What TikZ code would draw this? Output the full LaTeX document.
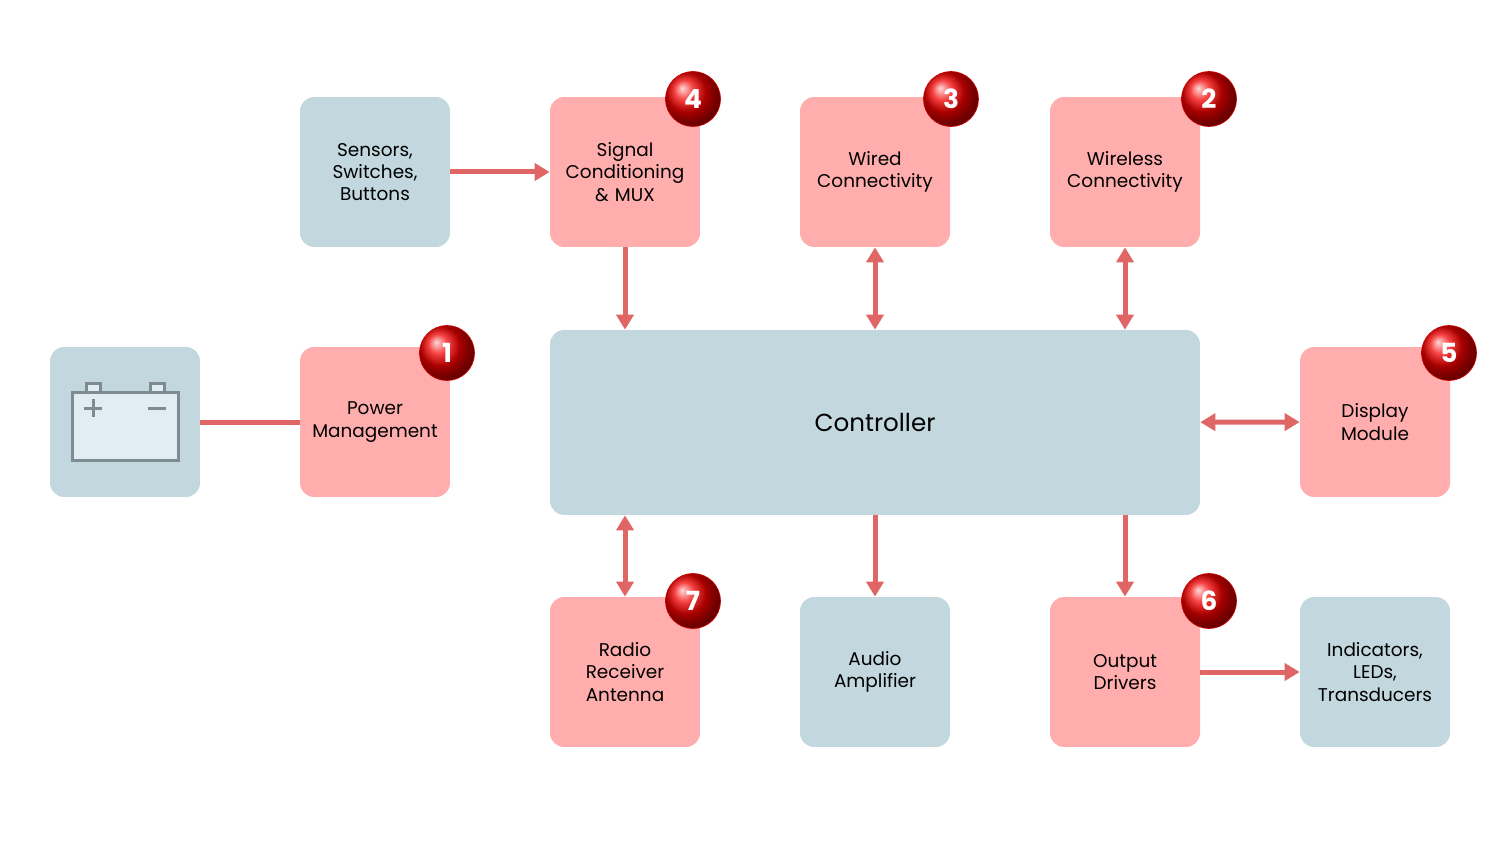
\documentclass[tikz,border=0pt]{standalone}
\usepackage{fontspec}
\setmainfont{Poppins}
\usetikzlibrary{positioning,arrows.meta,shadings}
\definecolor{pinkbox}{HTML}{FFADAD}
\definecolor{bluebox}{HTML}{C2D7DE}
\definecolor{link}{HTML}{E06666}
\definecolor{battline}{HTML}{7E8B90}
\definecolor{battfill}{HTML}{E1EDF3}
\tikzset{
  blk/.style={rounded corners=8pt, inner sep=0pt, minimum width=3cm, minimum height=3cm, align=center, font=\fontsize{10.5}{12.6}\selectfont, text width=2.9cm},
  pk/.style={blk, fill=pinkbox},
  bl/.style={blk, fill=bluebox},
  badge/.style={circle, ball color=red!95!black, draw=red!80!black, minimum size=1.1cm, text=white, font=\fontsize{15}{15}\selectfont\bfseries, inner sep=0pt},
  lnk/.style={draw=link, line width=0.1cm},
  arr/.style={lnk, -{Triangle[length=0.3cm,width=0.34cm]}},
  darr/.style={lnk, {Triangle[length=0.3cm,width=0.34cm]}-{Triangle[length=0.3cm,width=0.34cm]}}
}
\begin{document}
\begin{tikzpicture}[x=0.02cm,y=-0.02cm]
\useasboundingbox (0,0) rectangle (1500,844);

% top row
\node[bl] (sens) at (375,172) {Sensors,\\Switches,\\Buttons};
\node[pk] (sig) at (625,172) {Signal\\Conditioning\\\& MUX};
\node[pk] (wired) at (875,172) {Wired\\Connectivity};
\node[pk] (wless) at (1125,172) {Wireless\\Connectivity};

% middle row
\node[bl] (batt) at (125,422) {};
\node[pk] (pwr) at (375,422) {Power\\Management};
\node[bl, minimum width=13cm, minimum height=3.7cm, text width=12cm, font=\fontsize{14}{16}\selectfont] (ctrl) at (875,422.5) {Controller};
\node[pk] (disp) at (1375,422) {Display\\Module};

% bottom row
\node[pk] (radio) at (625,672) {Radio\\Receiver\\Antenna};
\node[bl] (audio) at (875,672) {Audio\\Amplifier};
\node[pk] (outd) at (1125,672) {Output\\Drivers};
\node[bl] (ind) at (1375,672) {Indicators,\\LEDs,\\Transducers};

% battery icon
\draw[battline, line width=0.06cm, fill=battfill] (86,392) rectangle (100,383);
\draw[battline, line width=0.06cm, fill=battfill] (150,392) rectangle (164,383);
\draw[battline, line width=0.06cm, fill=battfill] (72,392) rectangle (178,460);
\draw[battline, line width=0.06cm] (84,408) -- (102,408) (93,399) -- (93,417) (148,408) -- (166,408);

% badges
\node[badge] (b4) at (693,99) {4};
\node[badge] (b3) at (951,99) {3};
\node[badge] (b2) at (1209,99) {2};
\node[badge] (b1) at (447,353) {1};
\node[badge] (b5) at (1449,353) {5};
\node[badge] (b6) at (1209,601) {6};
\node[badge] (b7) at (693,601) {7};

% links
\draw[arr] (sens) -- (sig);
\draw[arr] (sig.south) -- (sig.south |- ctrl.north);
\draw[darr] (wired.south) -- (wired.south |- ctrl.north);
\draw[darr] (wless.south) -- (wless.south |- ctrl.north);
\draw[lnk] (batt) -- (pwr);
\draw[darr] (ctrl) -- (disp);
\draw[darr] (radio.north) -- (radio.north |- ctrl.south);
\draw[arr] (audio.north |- ctrl.south) -- (audio.north);
\draw[arr] (outd.north |- ctrl.south) -- (outd.north);
\draw[arr] (outd) -- (ind);
\end{tikzpicture}
\end{document}
